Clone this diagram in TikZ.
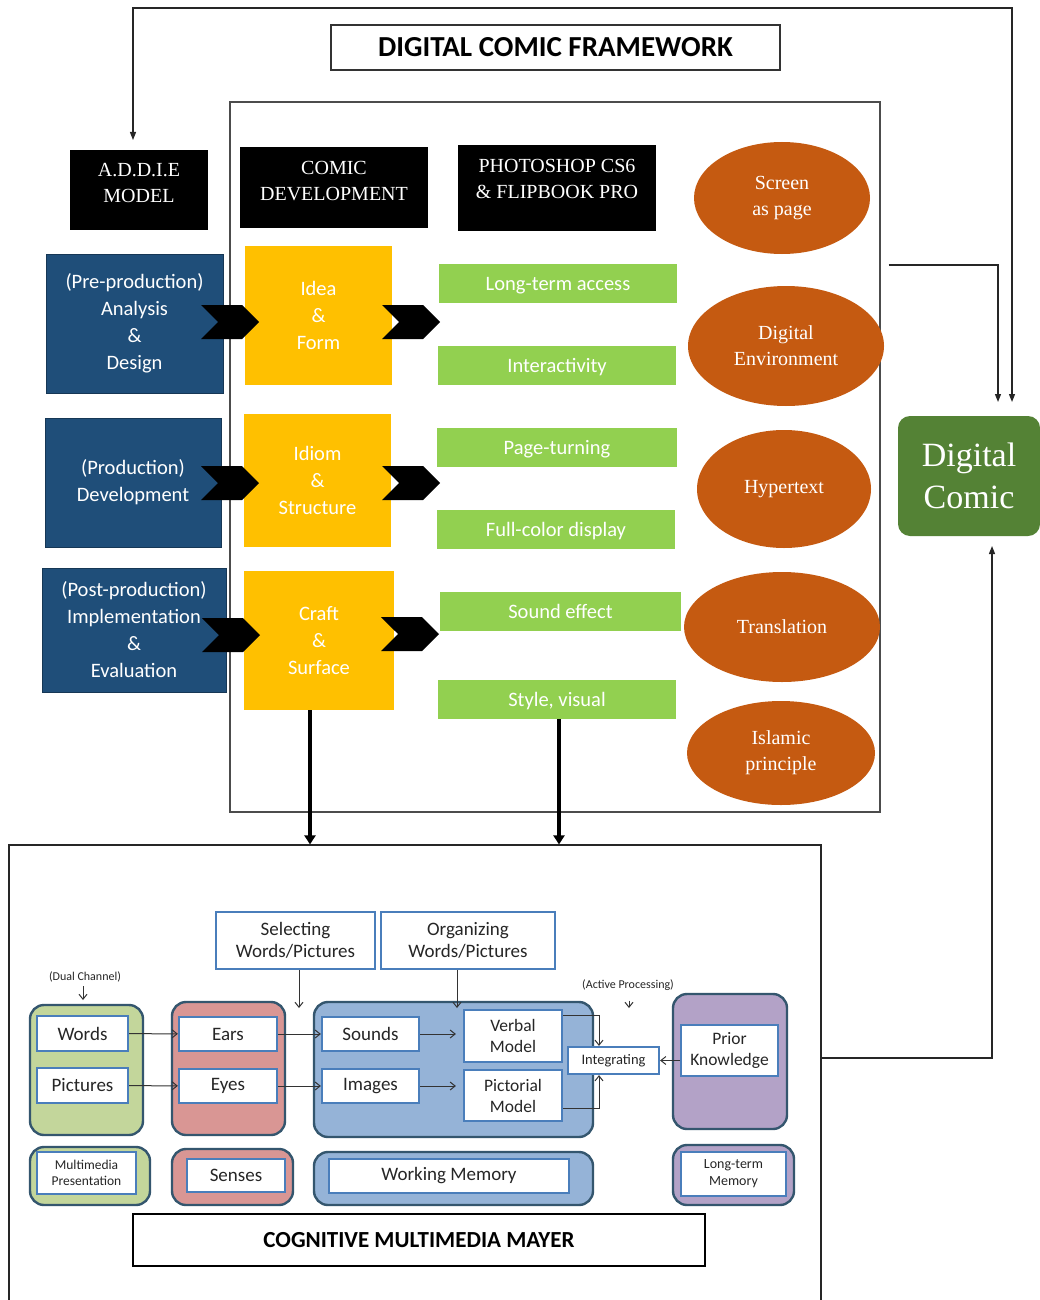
\documentclass[tikz,border=0pt]{standalone}
\usepackage{fontspec}
\setmainfont{Liberation Serif}
\newfontfamily\calfont{Carlito}
\usetikzlibrary{shapes.geometric,shapes.symbols,arrows.meta,backgrounds}
\definecolor{dblue}{HTML}{1F4E79}
\definecolor{ylw}{HTML}{FFC000}
\definecolor{lgreen}{HTML}{92D050}
\definecolor{orng}{HTML}{C55A11}
\definecolor{dgreen}{HTML}{548235}
\definecolor{mgreen}{HTML}{C3D69B}
\definecolor{mpink}{HTML}{D99694}
\definecolor{mblue}{HTML}{95B3D7}
\definecolor{mpurp}{HTML}{B3A2C7}
\definecolor{oborder}{HTML}{34566E}
\definecolor{iborder}{HTML}{4A7EBB}
\begin{document}
\begin{tikzpicture}[x=1pt,y=-1pt,
 >={Triangle[length=8pt,width=6pt]},
 corners/.style n args={4}{at={({(#1+#3)/2},{(#2+#4)/2})}, minimum width={#3-#1}, minimum height={#4-#2}},
 rect/.style={inner sep=0pt, align=center},
 blackbox/.style={rect, fill=black, text=white, font=\fontsize{20}{26}\selectfont},
 bluebox/.style={rect, fill=dblue, draw=dblue!70!black, line width=0.8pt, text=white, font=\calfont\fontsize{20.5}{27}\selectfont},
 yelbox/.style={rect, fill=ylw, text=white, font=\calfont\fontsize{20.5}{27}\selectfont},
 grnbox/.style={rect, fill=lgreen, text=white, text height=15pt, text depth=1pt, font=\calfont\fontsize{20.5}{24}\selectfont},
 oval/.style={ellipse, fill=orng, text=white, inner sep=0pt, align=center, font=\fontsize{20}{26}\selectfont},
 chev/.style={signal, signal from=west, signal to=east, fill=black, minimum width=58pt, minimum height=34pt, inner sep=0pt},
 thinarr/.style={draw=black!85, line width=1.2pt},
 thickarr/.style={line width=4.5pt, -{Triangle[length=9pt,width=11pt]}},
 outer/.style={rect, draw=oborder, line width=2.4pt, rounded corners=14pt},
 inner/.style={rect, draw=iborder, fill=white, line width=2.2pt, text=black!85, font=\calfont\fontsize{19}{22}\selectfont},
 small/.style={-{Straight Barb[length=5pt,width=8pt]}, line width=1pt, draw=black!80},
 note/.style={inner sep=0pt, text=black!85, font=\calfont\fontsize{12}{14}\selectfont},
]
\useasboundingbox[fill=white] (0,0) rectangle (1040,1300);

% ---------- upper framework ----------
\node[rect, draw=black!80, line width=1.5pt, corners={331}{25}{780}{70}, font=\calfont\bfseries\fontsize{29}{32}\selectfont] (title) {DIGITAL COMIC FRAMEWORK};
\node[rect, draw=black!70, line width=1.2pt, corners={230}{102}{880}{812}] (frame) {};

\node[blackbox, corners={70}{150}{208}{230}] (addie) {A.D.D.I.E\\MODEL\\[-12pt]\mbox{}};
\node[blackbox, corners={240}{147}{428}{228}] (cdev) {COMIC\\DEVELOPMENT\\[-12pt]\mbox{}};
\node[blackbox, corners={458}{145}{656}{231}] (ps) {PHOTOSHOP CS6\\\& FLIPBOOK PRO\\[-8pt]\mbox{}};

\node[bluebox, corners={46}{254}{223}{393}] (b1) {(Pre-production)\\Analysis\\\&\\Design};
\node[bluebox, corners={45}{418}{221}{547}] (b2) {(Production)\\Development};
\node[bluebox, corners={42}{568}{226}{692}] (b3) {(Post-production)\\Implementation\\\&\\Evaluation};

\node[yelbox, corners={245}{246}{392}{385}] (y1) {Idea\\\&\\Form};
\node[yelbox, corners={244}{414}{391}{547}] (y2) {Idiom\\\&\\Structure};
\node[yelbox, corners={244}{571}{394}{710}] (y3) {Craft\\\&\\Surface};

\node[grnbox, corners={439}{264}{677}{303}] (g1) {Long-term access};
\node[grnbox, corners={438}{346}{676}{385}] (g2) {Interactivity};
\node[grnbox, corners={437}{428}{677}{467}] (g3) {Page-turning};
\node[grnbox, corners={437}{510}{675}{549}] (g4) {Full-color display};
\node[grnbox, corners={440}{592}{681}{631}] (g5) {Sound effect};
\node[grnbox, corners={438}{680}{676}{719}] (g6) {Style, visual};

\node[chev] (c1) at (230,322) {};
\node[chev] (c2) at (230,483) {};
\node[chev] (c3) at (231,635) {};
\node[chev] (c4) at (411,322) {};
\node[chev] (c5) at (411,483) {};
\node[chev] (c6) at (410,634) {};

\node[oval, minimum width=176pt, minimum height=112pt] (o1) at (782,198) {Screen\\as page};
\node[oval, minimum width=196pt, minimum height=120pt] (o2) at (786,346) {Digital\\Environment};
\node[oval, minimum width=174pt, minimum height=118pt] (o3) at (784,489) {Hypertext};
\node[oval, minimum width=196pt, minimum height=110pt] (o4) at (782,627) {Translation};
\node[oval, minimum width=188pt, minimum height=104pt] (o5) at (781,753) {Islamic\\principle};

\node[rect, fill=dgreen, rounded corners=12pt, corners={898}{416}{1040}{536}, text=white, font=\fontsize{34}{42}\selectfont] (dc) {Digital\\Comic};

% ---------- lower (Mayer) ----------
\node[rect, draw=black!85, line width=1.2pt, corners={9}{845}{821}{1330}] (mframe) {};

\node[inner, corners={216}{912}{375}{969}] (sel) {Selecting\\Words/Pictures};
\node[inner, corners={381}{912}{555}{969}] (org) {Organizing\\Words/Pictures};

\node[outer, fill=mgreen, corners={30}{1005}{143}{1135}] (mg) {};
\node[outer, fill=mpink, corners={172}{1002}{285}{1135}] (mp) {};
\node[outer, fill=mblue, corners={314}{1002}{593}{1137}] (mb) {};
\node[outer, fill=mpurp, corners={673}{994}{787}{1129}] (mu) {};

\node[inner, corners={37}{1016}{128}{1051}] (words) {Words};
\node[inner, corners={37}{1068}{128}{1103}] (pics) {Pictures};
\node[inner, corners={179}{1017}{277}{1051}] (ears) {Ears};
\node[inner, corners={179}{1069}{277}{1103}] (eyes) {Eyes};
\node[inner, corners={322}{1017}{419}{1051}] (sounds) {Sounds};
\node[inner, corners={322}{1069}{419}{1103}] (images) {Images};
\node[inner, corners={464}{1010}{562}{1062}, font=\calfont\fontsize{17.5}{21}\selectfont] (verbal) {Verbal\\Model};
\node[inner, corners={464}{1070}{562}{1121}, font=\calfont\fontsize{17.5}{21}\selectfont] (pict) {Pictorial\\Model};
\node[inner, corners={568}{1047}{659}{1074}, font=\calfont\fontsize{14.5}{16}\selectfont] (integ) {Integrating};
\node[inner, corners={681}{1025}{778}{1076}, font=\calfont\fontsize{17.5}{21}\selectfont] (prior) {Prior\\Knowledge};

\node[outer, fill=mgreen, corners={30}{1147}{150}{1205}] (mg2) {};
\node[inner, corners={37}{1152}{136}{1194}, font=\calfont\fontsize{13.5}{16}\selectfont] (mmp) {Multimedia\\Presentation};
\node[outer, fill=mpink, corners={172}{1149}{293}{1205}] (mp2) {};
\node[inner, corners={187}{1159}{285}{1192}] (senses) {Senses};
\node[outer, fill=mblue, corners={314}{1152}{593}{1205}] (mb2) {};
\node[inner, corners={329}{1159}{569}{1193}] (wm) {Working Memory};
\node[outer, fill=mpurp, corners={673}{1145}{794}{1205}] (mu2) {};
\node[inner, corners={681}{1152}{786}{1196}, font=\calfont\fontsize{14}{17}\selectfont] (ltm) {Long-term\\Memory};

\node[note] (dual) at (85,977) {(Dual Channel)};
\node[note] (active) at (628,985) {(Active Processing)};

\node[rect, draw=black, line width=1.5pt, corners={133}{1214}{705}{1266}, font=\calfont\bfseries\fontsize{23}{26}\selectfont] (cmm) {COGNITIVE MULTIMEDIA MAYER};

% ---------- coordinates ----------
\coordinate (top) at (0,8);
\coordinate (pA) at (133,140);
\coordinate (pT) at (1012,402);
\coordinate (pC) at (998,402);
\coordinate (h265) at (0,265);
\coordinate (h1058) at (0,1058);
\coordinate (pB) at (992,546);
\coordinate (c310) at (310,0);
\coordinate (c559) at (559,0);
\coordinate (c599) at (599,0);
\coordinate (selend) at (299,1008);
\coordinate (orgend) at (457,1008);
\coordinate (actend) at (629,1008);
\coordinate (dualend) at (83,1000);

% ---------- connectors ----------
\begin{pgfonlayer}{background}
\draw[line width=5pt] (g1.south -| c559) -- (c559 |- g6.north);
\end{pgfonlayer}
\draw[thickarr] (g6.south -| c559) -- (c559 |- mframe.north);
\draw[thickarr] (y3.south -| c310) -- (c310 |- mframe.north);

\draw[thinarr, <->] (pA) |- (top -| pT) -- (pT);
\draw[thinarr, ->] ([xshift=8pt]frame.east |- h265) -| (pC);
\draw[thinarr, ->] (h1058 -| mframe.east) -| (pB);

\draw[small] (words) -- (ears);
\draw[small] (pics) -- (eyes);
\draw[small] (ears) -- (sounds);
\draw[small] (eyes) -- (images);
\draw[small] (sounds.east) -- ([xshift=-7pt]sounds.east -| verbal.west);
\draw[small] (images.east) -- ([xshift=-7pt]images.east -| pict.west);
\draw[small] ([yshift=-7pt]verbal.north east) -| (integ.north -| c599);
\draw[small] ([yshift=14pt]pict.south east) -| (integ.south -| c599);
\draw[small] (prior.west |- integ.east) -- (integ.east);
\draw[small] (sel.south -| selend) -- (selend);
\draw[small] (org.south -| orgend) -- (orgend);
\draw[small] ([yshift=-10pt]actend |- active.south) -- (actend);
\draw[small] ([yshift=-4pt]dualend |- dual.south) -- (dualend);
\end{tikzpicture}
\end{document}
